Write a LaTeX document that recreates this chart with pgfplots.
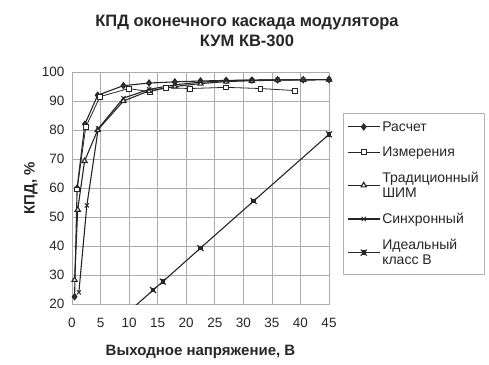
\documentclass[border=0pt]{standalone}
\usepackage{pgfplots}
\pgfplotsset{compat=1.18}
\usepackage{fontspec}
\setmainfont{Liberation Sans}
\pgfdeclareplotmark{xsq}{%
  \pgfpathrectangle{\pgfqpoint{-0.55\pgfplotmarksize}{-0.55\pgfplotmarksize}}{\pgfqpoint{1.1\pgfplotmarksize}{1.1\pgfplotmarksize}}%
  \pgfusepathqfillstroke
  \pgfpathmoveto{\pgfqpoint{-\pgfplotmarksize}{-\pgfplotmarksize}}\pgfpathlineto{\pgfqpoint{\pgfplotmarksize}{\pgfplotmarksize}}%
  \pgfpathmoveto{\pgfqpoint{-\pgfplotmarksize}{\pgfplotmarksize}}\pgfpathlineto{\pgfqpoint{\pgfplotmarksize}{-\pgfplotmarksize}}%
  \pgfusepathqstroke}
\begin{document}
\begin{tikzpicture}[x=1pt,y=1pt]
\useasboundingbox (0,0) rectangle (489,364);
\node[font=\bfseries\fontsize{16.5}{20}\selectfont, align=center, text=black!85] at (247,333) {КПД оконечного каскада модулятора\\КУМ КВ-300};
\begin{axis}[
  at={(72pt,60pt)}, anchor=south west,
  scale only axis, width=257pt, height=232pt,
  xmin=0, xmax=45, ymin=20, ymax=100,
  xtick={0,5,...,45}, ytick={20,30,...,100},
  grid=major, major grid style={gray!65, line width=0.6pt},
  axis line style={gray!65, line width=0.6pt},
  tick style={draw=none},
  ticklabel style={font=\fontsize{13.5}{15}\selectfont, text=black!85},
  /pgf/number format/assume math mode=true,
  xlabel={Выходное напряжение, В}, ylabel={КПД, \%},
  label style={font=\bfseries\fontsize{15}{17}\selectfont, text=black!85},
  xlabel style={at={(axis description cs:0.5,0)}, anchor=center, yshift=-48pt},
  ylabel style={at={(axis description cs:0,0.5)}, anchor=center, yshift=41pt},
  xticklabel style={yshift=-11pt},
  yticklabel style={xshift=-4pt},
  clip=true,
  every axis plot/.append style={line width=1.1pt, black!85, mark options={solid, line width=0.8pt}},
  legend style={at={(1.054,0.823)}, anchor=north west, draw=gray!60, line width=0.6pt,
    font=\fontsize{14}{15.5}\selectfont, text=black!85, cells={align=left, anchor=west},
    row sep=10pt, inner xsep=4pt, inner ysep=6pt},
  legend image code/.code={\draw[#1] (0pt,0pt) -- (32pt,0pt); \draw[#1, only marks] plot coordinates {(16pt,0pt)};},
]
\addplot[mark=diamond*, mark size=3pt, mark options={fill=black!80}] coordinates {
(0.45,22.5) (0.9,60) (2.25,82) (4.5,92) (9,95.3) (13.5,96.2) (18,96.6) (22.5,96.9) (27,97.1) (31.5,97.2) (36,97.3) (40.5,97.3) (45,97.4)};
\addlegendentry{Расчет}
\addplot[mark=square*, mark size=2.4pt, mark options={fill=white}, line width=0.8pt] coordinates {
(0.9,59.5) (2.4,81) (4.9,91.5) (9.9,94.3) (13.6,93.2) (16.5,94.6) (20.6,94.3) (27,94.7) (33,94.3) (39,93.6)};
\addlegendentry{Измерения}
\addplot[mark=triangle*, mark size=3pt, mark options={fill=white}] coordinates {
(0.45,28.3) (1.0,52.5) (2.2,69.3) (4.5,80) (9,90) (13.5,93.5) (18,95) (22.5,96) (27,96.7) (31.5,97) (36,97.2) (40.5,97.3) (45,97.4)};
\addlegendentry{Традиционный\\ШИМ}
\addplot[mark=x, mark size=3pt] coordinates {
(1.2,24) (2.6,54) (4.6,80.5) (9,91) (13.5,94) (18,95.6) (22.5,96.5) (27,97) (31.5,97.2) (36,97.3) (40.5,97.3) (45,97.4)};
\addlegendentry{Синхронный}
\addplot[mark=xsq, mark size=3pt, mark options={fill=black!85}] coordinates {
(4.5,7.85) (14.2,24.8) (15.9,27.7) (22.5,39.3) (31.8,55.5) (45,78.5)};
\addlegendentry{Идеальный\\класс В}
\end{axis}
\end{tikzpicture}
\end{document}
